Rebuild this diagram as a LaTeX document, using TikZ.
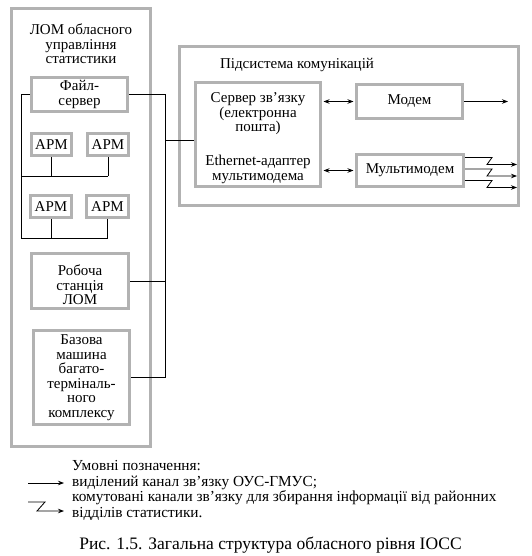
\documentclass[tikz,border=0pt]{standalone}
\usepackage{fontspec}
\setmainfont{Liberation Serif}
\usetikzlibrary{arrows.meta}
\begin{document}
\begin{tikzpicture}[x=1pt,y=-1pt,
  box/.style={draw=gray!60, line width=3pt, fill=white, align=center, inner sep=0pt, font=\fontsize{15}{14.5}\selectfont},
  lbl/.style={align=center, inner sep=0pt, font=\fontsize{15}{14.5}\selectfont},
  wire/.style={line width=0.8pt},
  tip/.tip={Stealth[length=6pt,width=4.5pt]},
  arr/.style={wire,-tip},
  darr/.style={wire,tip-tip, shorten <=1.5pt, shorten >=1.5pt}
]
\useasboundingbox (0,0) rectangle (531,556);
% left LAN frame
\node[box, minimum width=139pt, minimum height=438pt] (lom) at (81,227.5) {};
\node[lbl] (lomt) at (81,44) {ЛОМ обласного\\управління\\статистики};
\node[box, minimum width=96pt, minimum height=34pt] (fs) at (79.5,94.5) {Файл-\\сервер};
\node[box, minimum width=40pt, minimum height=22pt] (a1) at (51.5,144.5) {АРМ};
\node[box, minimum width=41pt, minimum height=22pt] (a2) at (108,144.5) {АРМ};
\node[box, minimum width=41pt, minimum height=22pt] (a3) at (51,206.5) {АРМ};
\node[box, minimum width=42pt, minimum height=22pt] (a4) at (107.5,206.5) {АРМ};
\node[box, minimum width=97pt, minimum height=55pt] (rs) at (80,281) {};
\node[lbl] (rst) at (80,285) {Робоча\\станція\\ЛОМ};
\node[box, minimum width=96pt, minimum height=94pt] (bm) at (81.5,377.5) {Базова\\машина\\багато-\\терміналь-\\ного\\комплексу};
% LAN wiring
\coordinate (lt) at (21,94.5);
\coordinate (b1l) at (21,176);
\coordinate (b1r) at (108,176);
\coordinate (b2l) at (21,238);
\coordinate (b2r) at (107.5,238);
\draw[wire] (fs.west) -- (lt) -- (b2l) -- (b2r);
\draw[wire] (b1l) -- (b1r);
\draw[wire] (a1.south) -- (a1.south |- b1l);
\draw[wire] (a2.south) -- (a2.south |- b1l);
\draw[wire] (a3.south) -- (a3.south |- b2l);
\draw[wire] (a4.south) -- (a4.south |- b2l);
\coordinate (vt) at (165,94.5);
\coordinate (vb) at (165,377.5);
\coordinate (vm) at (165,140);
\draw[wire] (fs.east) -- (vt) -- (vb) -- (bm.east);
\draw[wire] (rs.east) -- (rs.east -| vt);
% communications subsystem
\node[box, minimum width=339pt, minimum height=159pt] (comm) at (349,126) {};
\node[lbl] (commt) at (297,65) {Підсистема комунікацій};
\node[box, minimum width=125pt, minimum height=104pt] (srv) at (258,134.5) {};
\node[lbl] (srvt1) at (258,114) {Сервер зв’язку\\(електронна\\пошта)};
\node[lbl] (srvt2) at (258,169.5) {Ethernet-адаптер\\мультимодема};
\node[box, minimum width=106pt, minimum height=34pt] (modem) at (409.5,101.5) {Модем};
\node[box, minimum width=107pt, minimum height=32pt] (mm) at (410,170.5) {Мультимодем};
\draw[wire] (vm) -- (vm -| srv.west);
\draw[darr] (srv.east |- modem.west) -- (modem.west);
\draw[darr] (srv.east |- mm.west) -- (mm.west);
\coordinate (mo) at (508,101.5);
\draw[arr] (modem.east) -- (mo);
\foreach \dy/\n in {-13/1,-1.5/2,10/3}{
  \coordinate (z\n a) at (492,170.5+\dy);
  \coordinate (z\n b) at (487,177.5+\dy);
  \coordinate (z\n c) at (517,177.5+\dy);
  \draw[arr] ([yshift=-\dy pt]mm.east) -- (z\n a) -- (z\n b) -- (z\n c);
}
% legend
\coordinate (l1a) at (28,483);
\coordinate (l1b) at (64,483);
\draw[arr] (l1a) -- (l1b);
\coordinate (l2a) at (28,502);
\coordinate (l2b) at (45,502);
\coordinate (l2c) at (37,511);
\coordinate (l2d) at (64,511);
\draw[arr] (l2a) -- (l2b) -- (l2c) -- (l2d);
\node[lbl, anchor=west, align=left, font=\fontsize{15.3}{15.5}\selectfont] (leg) at (72,490.5) {Умовні позначення:\\виділений канал зв’язку ОУС-ГМУС;\\комутовані канали зв’язку для збирання інформації від районних\\відділів статистики.};
\node[inner sep=0pt, font=\fontsize{17.5}{20}\selectfont] (cap) at (270.5,545) {Рис. 1.5. Загальна структура обласного рівня ІОСС};
\end{tikzpicture}
\end{document}
